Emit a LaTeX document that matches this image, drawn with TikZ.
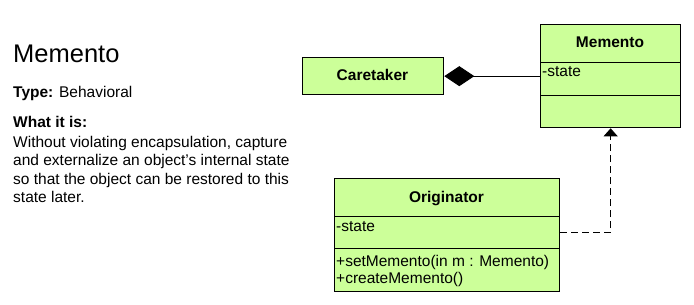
\documentclass[tikz,border=0pt]{standalone}
\usepackage{fontspec}
\setmainfont{Liberation Sans}
\usetikzlibrary{arrows.meta}
\definecolor{umlgreen}{RGB}{204,255,153}
\begin{document}
\begin{tikzpicture}[x=1pt,y=-1pt,
  comp/.style={draw=black,fill=umlgreen,line width=1.3pt,anchor=north west,inner sep=0pt,minimum width=#1},
  cname/.style={font=\fontsize{15.5}{18}\selectfont\bfseries,anchor=base},
  member/.style={font=\fontsize{15.5}{18}\selectfont,anchor=base west,inner sep=0pt},
  body/.style={font=\fontsize{15.5}{18.5}\selectfont,anchor=base west,inner sep=0pt,align=left}]
\useasboundingbox (0,0) rectangle (694,305);
% text
\node[anchor=base west,inner sep=0pt,font=\fontsize{25.5}{30}\selectfont] (title) at (13,63) {Memento};
\node[body] (type) at (13,97) {\textbf{Type:} Behavioral};
\node[body] (what) at (13,128) {\textbf{What it is:}};
\node[body] (l1) at (13,147) {Without violating encapsulation, capture};
\node[body] (l2) at (13,165.5) {and externalize an object's internal state};
\node[body] (l3) at (13,184) {so that the object can be restored to this};
\node[body] (l4) at (13,202.5) {state later.};
% Caretaker
\node[comp=141pt,minimum height=37pt] (care) at (302,57) {};
\node[cname] (caretxt) at (372.5,81) {Caretaker};
% Memento
\node[comp=140pt,minimum height=38pt] (mhead) at (540,24) {};
\node[comp=140pt,minimum height=33pt] (mattr) at (540,62) {};
\node[comp=140pt,minimum height=32pt] (mops) at (540,95) {};
\node[cname] (mname) at (610,48) {Memento};
\node[member] (mstate) at (542,77) {-state};
% Originator
\node[comp=225pt,minimum height=38pt] (ohead) at (334,178) {};
\node[comp=225pt,minimum height=32pt] (oattr) at (334,216) {};
\node[comp=225pt,minimum height=43pt] (oops) at (334,248) {};
\node[cname] (oname) at (446.5,202) {Originator};
\node[member] (ostate) at (336,231) {-state};
\node[member] (oset) at (336,266) {+setMemento(in m : Memento)};
\node[member] (ocreate) at (336,283) {+createMemento()};
% connectors
\draw[line width=0.9pt,{Diamond[length=30pt,width=20pt,fill=black]}-] (care.east) -- (mattr.west |- care.east);
\draw[line width=0.9pt,dashed,dash pattern=on 7pt off 4pt,-{Triangle[length=8pt,width=14pt,fill=black]}] (oattr.east) -| (mops.south);
\end{tikzpicture}
\end{document}
